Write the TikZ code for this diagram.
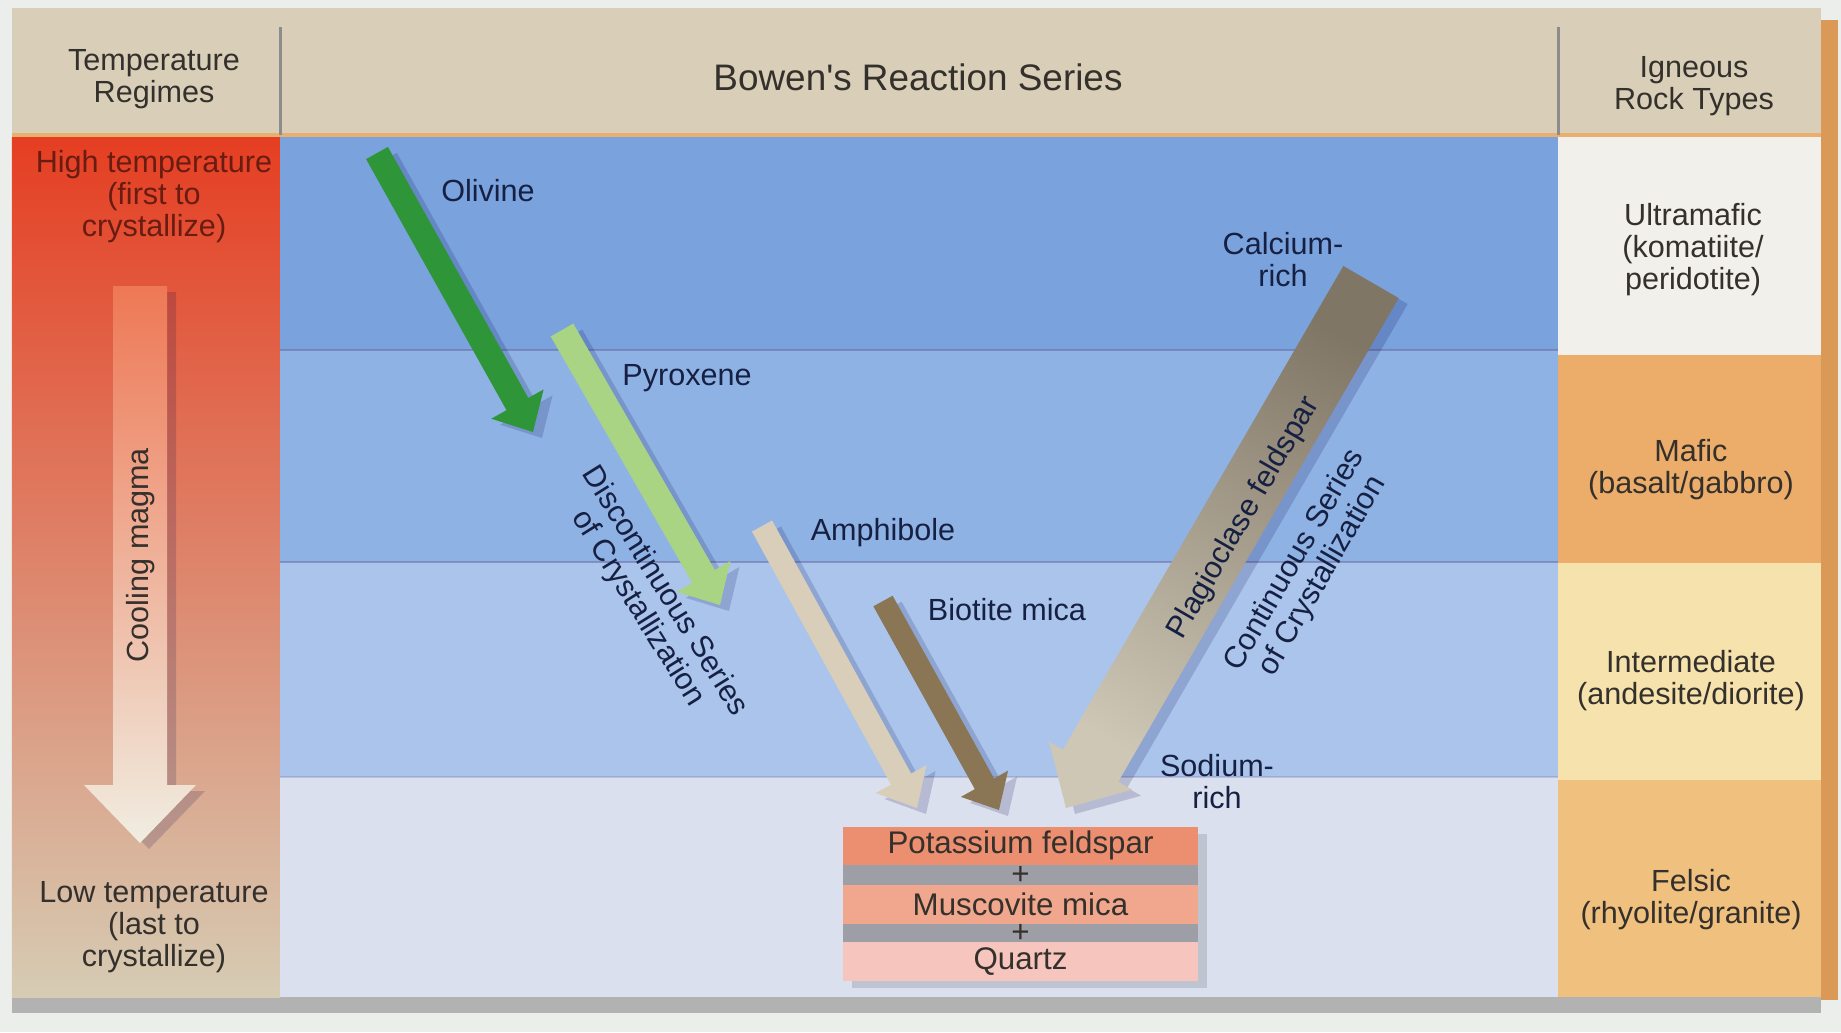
\documentclass[tikz,border=0pt]{standalone}
\usepackage{fontspec}
\setmainfont{Liberation Sans}
\usetikzlibrary{calc}

\definecolor{bgcol}{RGB}{236,238,236}
\definecolor{hdrcol}{RGB}{217,207,184}
\definecolor{hotcol}{RGB}{229,62,34}
\definecolor{warmcol}{RGB}{236,138,100}
\definecolor{coolcol}{RGB}{214,204,180}
\definecolor{blueA}{RGB}{122,162,221}
\definecolor{blueB}{RGB}{143,178,228}
\definecolor{blueC}{RGB}{170,196,235}
\definecolor{blueD}{RGB}{218,224,238}
\definecolor{ultracol}{RGB}{242,240,234}
\definecolor{maficcol}{RGB}{236,172,106}
\definecolor{intercol}{RGB}{246,226,172}
\definecolor{felsiccol}{RGB}{240,192,126}
\definecolor{olivinecol}{RGB}{46,150,56}
\definecolor{pyroxcol}{RGB}{168,212,132}
\definecolor{amphcol}{RGB}{216,206,186}
\definecolor{biotcol}{RGB}{138,118,84}
\definecolor{plagdark}{RGB}{128,118,102}
\definecolor{plaglight}{RGB}{206,199,182}
\definecolor{coolhot}{RGB}{238,120,85}
\definecolor{coolpale}{RGB}{240,237,225}
\definecolor{kspcol}{RGB}{236,142,112}
\definecolor{muscol}{RGB}{241,166,142}
\definecolor{qtzcol}{RGB}{246,198,190}
\definecolor{pluscol}{RGB}{158,158,166}
\definecolor{inkblue}{RGB}{22,32,66}
\definecolor{inkgray}{RGB}{52,48,44}
\definecolor{inkred}{RGB}{105,28,18}

% fat arrow: tail, tip, half shaft, half head, head length, fill options
\newcommand{\fatarrow}[6]{%
  \coordinate (#2base) at ($(#2)!#5!(#1)$);
  \path[#6] ($(#1)!#3!90:(#2)$) -- ($(#2base)!#3!90:(#2)$) -- ($(#2base)!#4!90:(#2)$) -- (#2)
    -- ($(#2base)!#4!-90:(#2)$) -- ($(#2base)!#3!-90:(#2)$) -- ($(#1)!#3!-90:(#2)$) -- cycle;}

\begin{document}
\begin{tikzpicture}[
    headtext/.style={font=\fontsize{8.7}{9.1}\selectfont, text=inkgray, align=center, inner sep=0pt},
    hottext/.style={headtext, text=inkred},
    mineral/.style={font=\fontsize{8.7}{9.1}\selectfont, text=inkblue, align=center, inner sep=0pt},
    mineralbox/.style={font=\fontsize{8.9}{9.1}\selectfont, text=inkgray, inner sep=0pt,
      minimum width=3.55cm, minimum height=0.38cm},
    divline/.style={draw=black!45, line width=0.3mm},
    bandline/.style={draw=blue!35!black!60, line width=0.2mm, opacity=0.5},
    arrowshadow/.style={preaction={fill=blue!30!black, opacity=0.16,
      transform canvas={shift={(0.9mm,-0.6mm)}}}}]
  \useasboundingbox (0,0) rectangle (18.41,-10.32);
  \fill[bgcol] (0,0) rectangle (18.41,-10.32);
  \fill[brown!70!orange!80] (18.21,-0.2) rectangle (18.38,-10.0);
  \fill[black!30] (0.12,-9.97) rectangle (18.21,-10.13);

  % header
  \fill[hdrcol] (0.12,-0.08) rectangle (18.21,-1.35);
  \draw[orange!40!hdrcol, line width=0.4mm] (0.12,-1.35) -- (18.21,-1.35);
  \draw[divline] (2.80,-0.27) -- (2.80,-1.35);
  \draw[divline] (15.58,-0.27) -- (15.58,-1.35);

  % temperature column
  \shade[top color=hotcol, middle color=warmcol, bottom color=coolcol] (0.12,-1.37) rectangle (2.80,-9.97);

  % blue bands
  \fill[blueA] (2.80,-1.37) rectangle (15.58,-3.50);
  \fill[blueB] (2.80,-3.50) rectangle (15.58,-5.62);
  \fill[blueC] (2.80,-5.62) rectangle (15.58,-7.77);
  \fill[blueD] (2.80,-7.77) rectangle (15.58,-9.97);
  \draw[bandline] (2.80,-3.50) -- (15.58,-3.50);
  \draw[bandline] (2.80,-5.62) -- (15.58,-5.62);
  \draw[bandline, opacity=0.25] (2.80,-7.77) -- (15.58,-7.77);

  % rock types column
  \fill[ultracol] (15.58,-1.37) rectangle (18.21,-3.55);
  \fill[maficcol] (15.58,-3.55) rectangle (18.21,-5.63);
  \fill[intercol] (15.58,-5.63) rectangle (18.21,-7.80);
  \fill[felsiccol] (15.58,-7.80) rectangle (18.21,-9.97);

  % arrows
  \coordinate (coA) at (1.40,-2.86);
  \coordinate (coB) at (1.40,-8.43);
  \coordinate (olA) at (3.77,-1.53);
  \coordinate (olB) at (5.33,-4.32);
  \coordinate (pxA) at (5.62,-3.30);
  \coordinate (pxB) at (7.20,-6.05);
  \coordinate (amA) at (7.62,-5.26);
  \coordinate (amB) at (9.17,-8.08);
  \coordinate (biA) at (8.83,-6.01);
  \coordinate (biB) at (9.99,-8.10);
  \coordinate (plA) at (13.71,-2.82);
  \coordinate (plB) at (10.66,-8.08);
  \fatarrow{coA}{coB}{2.7mm}{5.6mm}{5.8mm}{arrowshadow, top color=coolhot, bottom color=coolpale}
  \fatarrow{olA}{olB}{1.25mm}{3.0mm}{3.2mm}{arrowshadow, fill=olivinecol}
  \fatarrow{pxA}{pxB}{1.3mm}{3.1mm}{3.3mm}{arrowshadow, fill=pyroxcol}
  \fatarrow{amA}{amB}{1.15mm}{2.9mm}{3.3mm}{arrowshadow, fill=amphcol}
  \fatarrow{biA}{biB}{1.1mm}{2.7mm}{3.0mm}{arrowshadow, fill=biotcol}
  \fatarrow{plA}{plB}{3.2mm}{4.8mm}{4.9mm}{arrowshadow, top color=plagdark, bottom color=plaglight, shading angle=-30}

  % final assemblage
  \fill[black, opacity=0.12] (8.52,-8.34) rectangle (12.07,-9.88);
  \fill[pluscol] (8.43,-8.64) rectangle (11.98,-9.42);
  \node[mineralbox, fill=kspcol] (kspar) at (10.205,-8.455) {Potassium feldspar};
  \node[mineralbox, fill=muscol, minimum height=0.39cm] (muscovite) at (10.205,-9.045) {Muscovite mica};
  \node[mineralbox, fill=qtzcol, minimum height=0.39cm] (quartz) at (10.205,-9.615) {Quartz};
  \node[mineralbox, minimum height=0] (plusA) at (10.205,-8.75) {+};
  \node[mineralbox, minimum height=0] (plusB) at (10.205,-9.33) {+};

  % labels
  \node[headtext] (tempregimes) at (1.54,-0.79) {Temperature\\Regimes};
  \node[headtext, font=\fontsize{10.5}{12}\selectfont] (bowen) at (9.18,-0.77) {Bowen\textquotesingle s Reaction Series};
  \node[headtext] (igneous) at (16.94,-0.86) {Igneous\\Rock Types};
  \node[hottext] (hightemp) at (1.54,-1.97) {High temperature\\(first to\\crystallize)};
  \node[headtext] (lowtemp) at (1.54,-9.27) {Low temperature\\(last to\\crystallize)};
  \node[headtext, rotate=90] (cooling) at (1.41,-5.55) {Cooling magma};

  \node[mineral] (olivine) at (4.88,-1.91) {Olivine};
  \node[mineral] (pyroxene) at (6.87,-3.78) {Pyroxene};
  \node[mineral] (amphibole) at (8.83,-5.33) {Amphibole};
  \node[mineral] (biotite) at (10.07,-6.10) {Biotite mica};
  \node[mineral] (calcium) at (12.83,-2.60) {Calcium-\\rich};
  \node[mineral] (sodium) at (12.17,-7.82) {Sodium-\\rich};
  \node[mineral, rotate=-58] (discont) at (6.51,-6.00) {Discontinuous Series\\of Crystallization};
  \node[mineral, rotate=60] (plagtext) at (12.44,-5.18) {Plagioclase feldspar};
  \node[mineral, rotate=60] (contin) at (13.09,-5.68) {Continuous Series\\of Crystallization};

  \node[headtext] (ultramafic) at (16.93,-2.50) {Ultramafic\\(komatiite/\\peridotite)};
  \node[headtext] (mafic) at (16.91,-4.70) {Mafic\\(basalt/gabbro)};
  \node[headtext] (intermediate) at (16.91,-6.81) {Intermediate\\(andesite/diorite)};
  \node[headtext] (felsic) at (16.91,-9.00) {Felsic\\(rhyolite/granite)};
\end{tikzpicture}
\end{document}
